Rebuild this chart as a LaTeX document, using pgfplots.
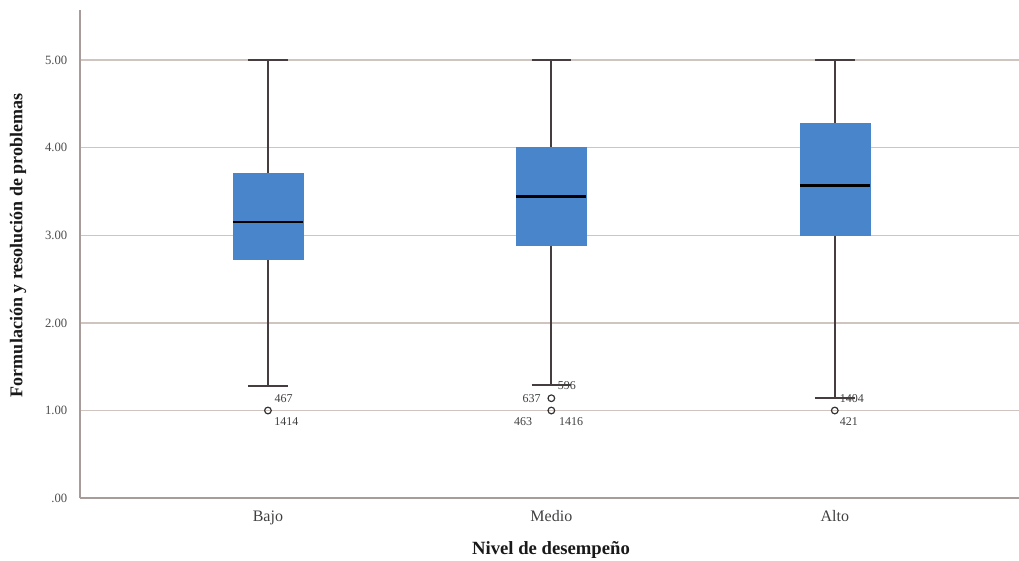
\documentclass[border=0pt]{standalone}
\usepackage{fontspec}
\setmainfont{Liberation Serif}
\usepackage{pgfplots}
\pgfplotsset{compat=1.18}
\usepgfplotslibrary{statistics}
\definecolor{boxblue}{RGB}{72,133,203}
\definecolor{gridc}{RGB}{208,196,192}
\definecolor{axisc}{RGB}{168,156,154}
\definecolor{whisk}{RGB}{70,62,62}
\begin{document}
\begin{tikzpicture}
\begin{axis}[name=ax, scale only axis, width=704pt, height=366pt,
 xmin=0.337, xmax=3.65, ymin=0, ymax=5.57,
 axis lines*=left, axis line style={axisc, line width=1.1pt},
 ytick={0,1,2,3,4,5}, yticklabels={.00,1.00,2.00,3.00,4.00,5.00},
 xtick={1,2,3}, xticklabels={Bajo,Medio,Alto},
 ymajorgrids, grid style={gridc, line width=1pt},
 major tick length=0pt,
 yticklabel style={font=\fontsize{9.5}{10}\selectfont, text=black!70, xshift=-6pt},
 xticklabel style={font=\fontsize{12}{13}\selectfont, text=black!75, yshift=-6pt},
 xlabel={Nivel de desempeño}, ylabel={Formulación y resolución de problemas},
 every axis x label/.style={at={(axis description cs:0.5016,-0.107)}, anchor=center, font=\bfseries\fontsize{14}{15}\selectfont, text=black!90},
 every axis y label/.style={at={(axis description cs:-0.066,0.518)}, anchor=center, rotate=90, font=\bfseries\fontsize{13.5}{15}\selectfont, text=black!90},
 boxplot/draw direction=y,
 boxplot/box extend=0.247, boxplot/whisker extend=0.14,
 boxplot/every box/.style={fill=boxblue, draw=boxblue},
 boxplot/every whisker/.style={draw=whisk, line width=1.4pt},
 boxplot/every median/.style={draw=black, line width=2pt},
 clip=false,
]
\addplot[boxplot prepared={draw position=1, lower whisker=1.28, lower quartile=2.73, median=3.15, upper quartile=3.71, upper whisker=5.0},
 mark=o, mark size=2.5pt, mark options={draw=black!80, line width=0.9pt, solid}, draw=whisk] coordinates {(0,1.0)};
\addplot[boxplot prepared={draw position=2, lower whisker=1.29, lower quartile=2.88, median=3.44, upper quartile=4.0, upper whisker=5.0},
 mark=o, mark size=2.5pt, mark options={draw=black!80, line width=0.9pt, solid}, draw=whisk] coordinates {(0,1.14) (0,1.0)};
\addplot[boxplot prepared={draw position=3, lower whisker=1.14, lower quartile=3.0, median=3.57, upper quartile=4.28, upper whisker=5.0},
 mark=o, mark size=2.5pt, mark options={draw=black!80, line width=0.9pt, solid}, draw=whisk] coordinates {(0,1.0)};
\begin{scope}[every node/.style={font=\fontsize{9}{10}\selectfont, text=black!75, inner sep=0pt}]
\node at (axis cs:1.055,1.14) {467};
\node at (axis cs:1.065,0.87) {1414};
\node at (axis cs:2.055,1.29) {596};
\node at (axis cs:1.93,1.14) {637};
\node at (axis cs:1.90,0.87) {463};
\node at (axis cs:2.07,0.87) {1416};
\node at (axis cs:3.06,1.14) {1404};
\node at (axis cs:3.05,0.87) {421};
\end{scope}
\end{axis}
\pgfresetboundingbox
\path[use as bounding box] ([xshift=-60pt,yshift=-46.5pt]ax.south west) rectangle ([yshift=7.5pt]ax.north east);
\end{tikzpicture}
\end{document}
